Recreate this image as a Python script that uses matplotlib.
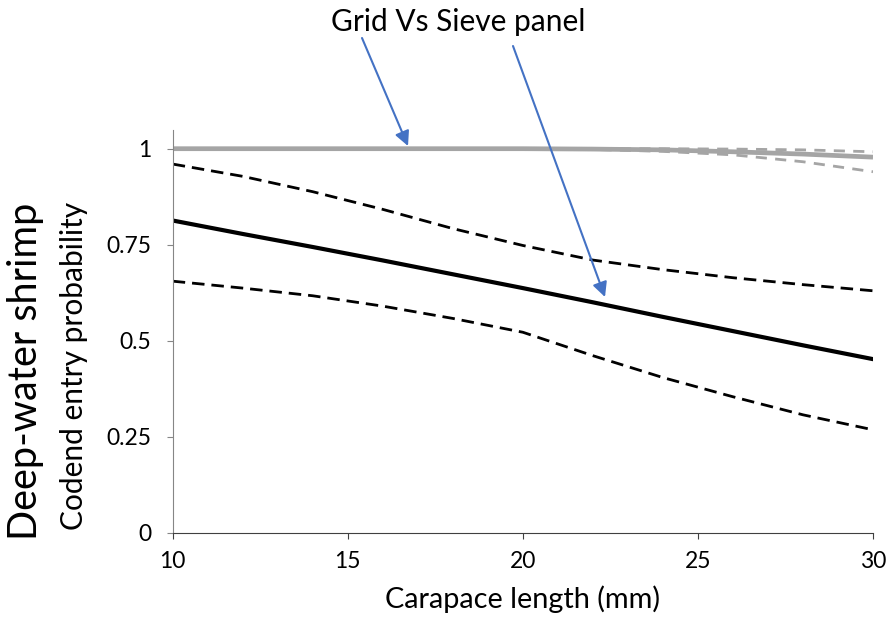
import matplotlib
matplotlib.use("Agg")
import matplotlib.pyplot as plt

plt.rcParams["font.family"] = ["Lato", "DejaVu Sans"]

# carapace length (mm)
length = [10, 12, 14, 16, 18, 20, 22, 24, 26, 28, 30]

# Deep-water shrimp, codend entry probability (black = estimate + CI)
est = [0.813, 0.778, 0.744, 0.709, 0.673, 0.637, 0.600, 0.562, 0.525, 0.488, 0.452]
ci_upper = [0.960, 0.928, 0.888, 0.842, 0.792, 0.748, 0.710, 0.685, 0.664, 0.646, 0.630]
ci_lower = [0.655, 0.637, 0.617, 0.590, 0.558, 0.522, 0.461, 0.404, 0.354, 0.307, 0.268]

# grid vs sieve panel reference curves (grey)
ref_est = [1.0, 1.0, 1.0, 1.0, 1.0, 1.0, 0.999, 0.997, 0.992, 0.986, 0.978]
ref_upper = [1.0, 1.0, 1.0, 1.0, 1.0, 1.0, 1.0, 1.0, 0.999, 0.997, 0.992]
ref_lower = [1.0, 1.0, 1.0, 1.0, 1.0, 1.0, 0.998, 0.993, 0.984, 0.966, 0.940]

yticks = [0, 0.25, 0.5, 0.75, 1]
ytick_labels = ["0", "0.25", "0.5", "0.75", "1"]
xticks = [10, 15, 20, 25, 30]

W, H = 887, 618
GREY = "#a5a5a5"
BLUE = "#4472c4"

fig = plt.figure(figsize=(W / 100, H / 100), dpi=100)
ax = fig.add_axes([172.7 / W, 1 - 532.7 / H, (873 - 172.7) / W, (532.7 - 130) / H])

ax.plot(length, ref_est, color=GREY, lw=3.4, solid_capstyle="butt")
ax.plot(length, ref_upper, color=GREY, lw=2.0, dashes=(4, 3))
ax.plot(length, ref_lower, color=GREY, lw=2.0, dashes=(4, 3))

ax.plot(length, est, color="black", lw=3.0)
ax.plot(length, ci_upper, color="black", lw=2.0, dashes=(4.5, 2.5))
ax.plot(length, ci_lower, color="black", lw=2.0, dashes=(4.5, 2.5))

ax.set_xlim(10, 30)
ax.set_ylim(0, (532.7 - 130) / 384)
ax.set_xticks(xticks)
ax.set_xticklabels([str(v) for v in xticks])
ax.set_yticks(yticks)
ax.set_yticklabels(ytick_labels)

for s in ["top", "right"]:
    ax.spines[s].set_visible(False)
ax.spines["left"].set_color("#868686")
ax.spines["bottom"].set_color("#404040")
ax.tick_params(axis="y", direction="out", length=4.5, color="#868686", labelsize=16.5, pad=11)
ax.tick_params(axis="x", direction="out", length=4.5, color="#404040", labelsize=16.5, pad=9)

ax.set_xlabel("Carapace length (mm)", fontsize=20.8, labelpad=9)
fig.text(74 / W, 1 - 366 / H, "Codend entry probability", rotation=90,
         fontsize=21.5, ha="center", va="center")
fig.text(26 / W, 1 - 371 / H, "Deep-water shrimp", rotation=90,
         fontsize=28.5, ha="center", va="center")

fig.text(458 / W, 1 - 22 / H, "Grid Vs Sieve panel", fontsize=21.5,
         ha="center", va="center")

arrow = dict(arrowstyle="-|>", color=BLUE, lw=1.5, mutation_scale=22,
             shrinkA=0, shrinkB=0)
for (x0, y0), (x1, y1) in [((362, 38), (408, 146)), ((513, 46), (605, 297))]:
    ax.annotate("", xy=(x1 / W, 1 - y1 / H), xycoords="figure fraction",
                xytext=(x0 / W, 1 - y0 / H), textcoords="figure fraction",
                arrowprops=arrow, annotation_clip=False)

fig.savefig("out.png", dpi=100, facecolor="white")
